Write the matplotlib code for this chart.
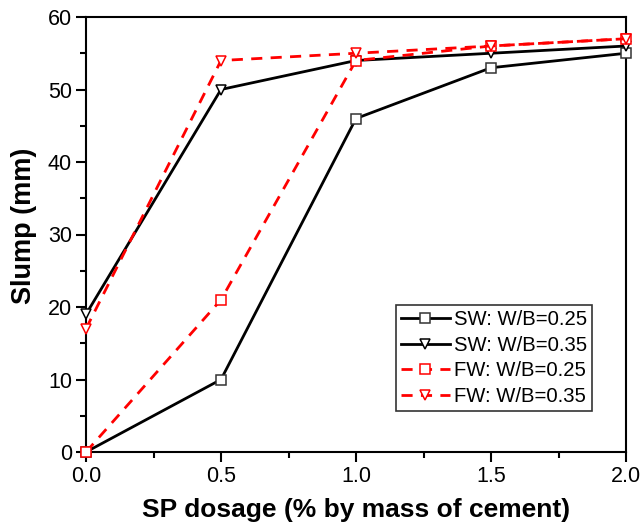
import matplotlib
matplotlib.use("Agg")
import matplotlib.pyplot as plt
from matplotlib.ticker import MultipleLocator

plt.rcParams['font.family'] = ['Liberation Sans', 'DejaVu Sans']

sp_dosage = [0.0, 0.5, 1.0, 1.5, 2.0]
sw_025 = [0, 10, 46, 53, 55]
sw_035 = [19, 50, 54, 55, 56]
fw_025 = [0, 21, 54, 56, 57]
fw_035 = [17, 54, 55, 56, 57]
labels = ["SW: W/B=0.25", "SW: W/B=0.35", "FW: W/B=0.25", "FW: W/B=0.35"]

fig = plt.figure(figsize=(6.42, 5.29), dpi=100)
ax = fig.add_axes([86/642, 77/529, 540/642, 435/529])

common = dict(lw=2, ms=7.5, mew=1.1, mfc='white', clip_on=False, zorder=3)
ax.plot(sp_dosage, sw_025, color='black', marker='s', mec='#333333', label=labels[0], **common)
ax.plot(sp_dosage, sw_035, color='black', marker='v', mec='black', label=labels[1], **common)
ax.plot(sp_dosage, fw_025, color='red', ls=(0, (4, 3)), marker='s', mec='red', label=labels[2], **common)
ax.plot(sp_dosage, fw_035, color='red', ls=(0, (4, 3)), marker='v', mec='red', label=labels[3], **common)

ax.set_xlim(0, 2)
ax.set_ylim(0, 60)
ax.xaxis.set_major_locator(MultipleLocator(0.5))
ax.xaxis.set_minor_locator(MultipleLocator(0.25))
ax.yaxis.set_major_locator(MultipleLocator(10))
ax.yaxis.set_minor_locator(MultipleLocator(5))
ax.xaxis.set_major_formatter(matplotlib.ticker.FormatStrFormatter('%.1f'))
ax.tick_params(which='major', direction='out', length=7, width=1.5, labelsize=15.5, pad=3)
ax.tick_params(which='minor', direction='out', length=4, width=1.5)
ax.tick_params(top=False, right=False)
for s in ax.spines.values():
    s.set_linewidth(1.5)

ax.set_xlabel("SP dosage (% by mass of cement)", fontsize=19, fontweight='bold', labelpad=8)
ax.set_ylabel("Slump (mm)", fontsize=19.5, fontweight='bold')
ax.yaxis.set_label_coords(-0.091, 0.52)

leg = ax.legend(loc='lower right', bbox_to_anchor=(0.937, 0.094), fontsize=14.6,
                frameon=True, fancybox=False, edgecolor='black', handlelength=2.4,
                borderpad=0.25, labelspacing=0.33, handletextpad=0.2, borderaxespad=0)
leg.get_frame().set_linewidth(1.2)

fig.savefig("out.png", dpi=100)
